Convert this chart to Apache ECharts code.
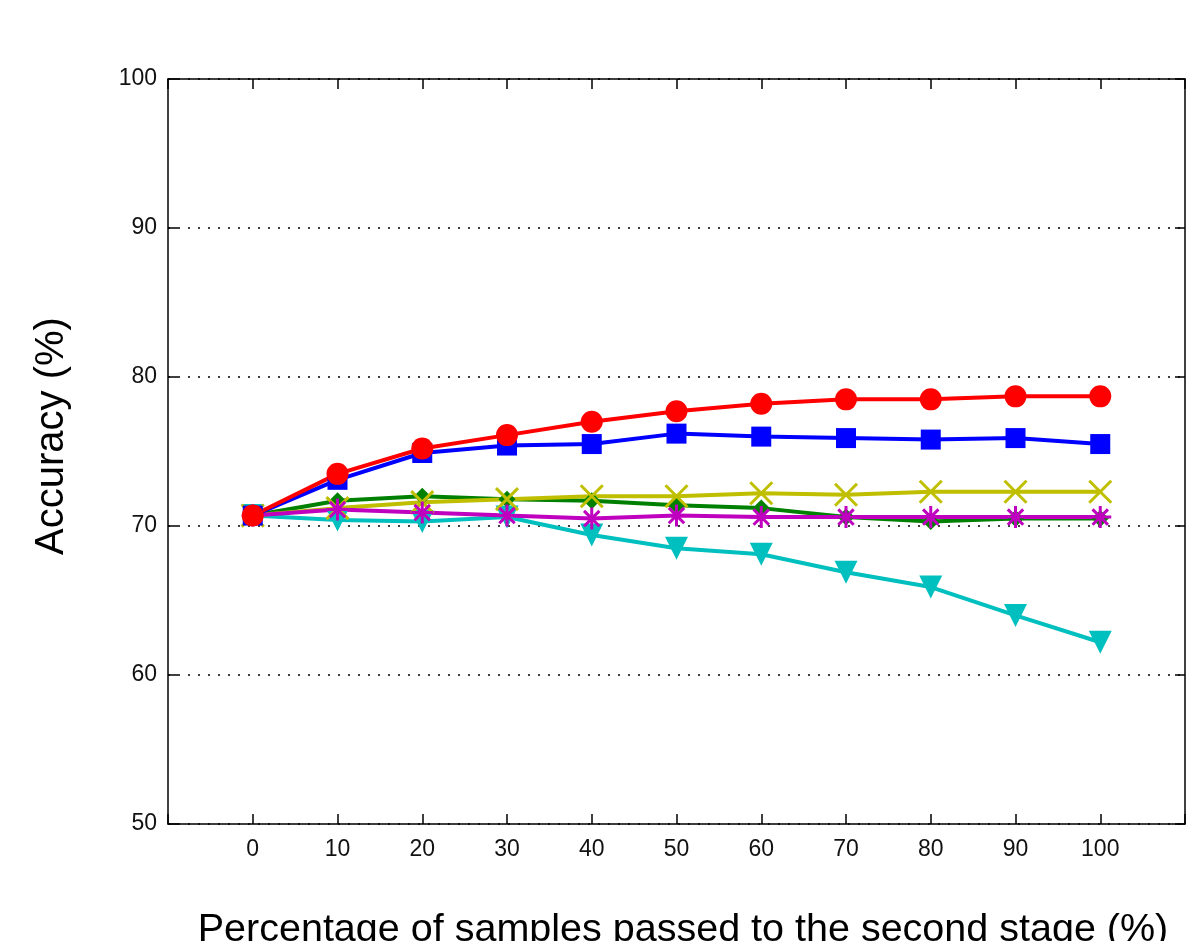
<!DOCTYPE html>
<html>
<head>
<meta charset="utf-8">
<script src="https://cdn.jsdelivr.net/npm/echarts@6/dist/echarts.min.js"></script>
<style>html,body{margin:0;padding:0;background:#fff;}#c{width:1200px;height:941px;}</style>
</head>
<body>
<div id="c"></div>
<script>
const xs = [0, 10, 20, 30, 40, 50, 60, 70, 80, 90, 100];
const xTickLabels = ['0','10','20','30','40','50','60','70','80','90','100'];
const yTickLabels = ['50','60','70','80','90','100'];
const redCircle   = [70.7, 73.5, 75.2, 76.1, 77.0, 77.7, 78.2, 78.5, 78.5, 78.7, 78.7];
const blueSquare  = [70.7, 73.1, 74.9, 75.4, 75.5, 76.2, 76.0, 75.9, 75.8, 75.9, 75.5];
const greenDiamond= [70.7, 71.7, 72.0, 71.8, 71.7, 71.4, 71.2, 70.6, 70.3, 70.5, 70.5];
const yellowX     = [70.7, 71.2, 71.6, 71.8, 72.0, 72.0, 72.2, 72.1, 72.3, 72.3, 72.3];
const magentaStar = [70.7, 71.1, 70.9, 70.7, 70.5, 70.7, 70.6, 70.6, 70.6, 70.6, 70.6];
const cyanTri     = [70.7, 70.4, 70.3, 70.6, 69.4, 68.5, 68.1, 66.9, 65.9, 64.0, 62.2];

const pts = arr => xs.map((x, i) => [x, arr[i]]);
const chart = echarts.init(document.getElementById('c'), null, {renderer: 'canvas'});
const tickFont = {fontFamily: '"Liberation Sans", Arial, sans-serif', fontSize: 23, color: '#111'};
const axisLine = {show: true, onZero: false, lineStyle: {color: '#000', width: 1.5}};

function mk(name, data, color, symbol, size, extra) {
  return Object.assign({
    name, type: 'line', data: pts(data), xAxisIndex: 0, yAxisIndex: 0,
    symbol, symbolSize: size,
    lineStyle: {color, width: 4},
    itemStyle: {color},
    emphasis: {disabled: true},
    silent: true
  }, extra || {});
}

const option = {
  animation: false,
  backgroundColor: '#fff',
  grid: {left: 168, right: 15, top: 79, bottom: 117, containLabel: false, outerBoundsMode: 'none'},
  xAxis: [{
    type: 'value', min: -10, max: 110, interval: 10, position: 'bottom',
    axisLine,
    axisTick: {show: true, inside: true, length: 10, lineStyle: {color: '#000', width: 1.5}},
    axisLabel: Object.assign({margin: 14, formatter: v => { const i = xs.indexOf(v); return i >= 0 ? xTickLabels[i] : ''; }}, tickFont),
    splitLine: {show: false}
  }, {
    type: 'value', min: -10, max: 110, interval: 10, position: 'top',
    axisLine,
    axisTick: {show: true, inside: true, length: 10, lineStyle: {color: '#000', width: 1.5}},
    axisLabel: {show: false}, splitLine: {show: false}
  }],
  yAxis: [{
    type: 'value', min: 50, max: 100, interval: 10, position: 'left',
    axisLine,
    axisTick: {show: true, inside: true, length: 10, lineStyle: {color: '#000', width: 1.5}},
    axisLabel: Object.assign({margin: 11, formatter: v => yTickLabels[Math.round((v - 50) / 10)] || ''}, tickFont),
    splitLine: {show: true, lineStyle: {color: '#000', width: 1.5, type: [2, 8]}}
  }, {
    type: 'value', min: 50, max: 100, interval: 10, position: 'right',
    axisLine,
    axisTick: {show: true, inside: true, length: 10, lineStyle: {color: '#000', width: 1.5}},
    axisLabel: {show: false}, splitLine: {show: false}
  }],
  graphic: [{
    type: 'text', x: 52, y: 436, rotation: Math.PI / 2,
    style: {text: 'Accuracy (%)', fontFamily: '"Liberation Sans", Arial, sans-serif', fontSize: 40, fill: '#000', align: 'center', verticalAlign: 'middle'}
  }, {
    type: 'text', x: 683, y: 930,
    style: {text: 'Percentage of samples passed to the second stage (%)', fontFamily: '"Liberation Sans", Arial, sans-serif', fontSize: 39.5, fill: '#000', align: 'center', verticalAlign: 'middle'}
  }],
  series: [
    mk('cyan', cyanTri, '#00bfbf', 'triangle', 23, {symbolRotate: 180}),
    mk('green', greenDiamond, '#008000', 'diamond', 17),
    mk('yellow', yellowX, '#bfbf00', 'path://M0,0L10,10M10,0L0,10', 22, {itemStyle: {color: '#bfbf00', borderColor: '#bfbf00', borderWidth: 3}}),
    mk('magenta', magentaStar, '#bf00bf', 'path://M5,0L5,10M0,5L10,5M1.5,1.5L8.5,8.5M8.5,1.5L1.5,8.5', 22, {itemStyle: {color: '#bf00bf', borderColor: '#bf00bf', borderWidth: 3}}),
    mk('blue', blueSquare, '#0000ff', 'rect', 20),
    mk('red', redCircle, '#ff0000', 'circle', 22)
  ]
};
chart.setOption(option);
</script>
</body>
</html>
